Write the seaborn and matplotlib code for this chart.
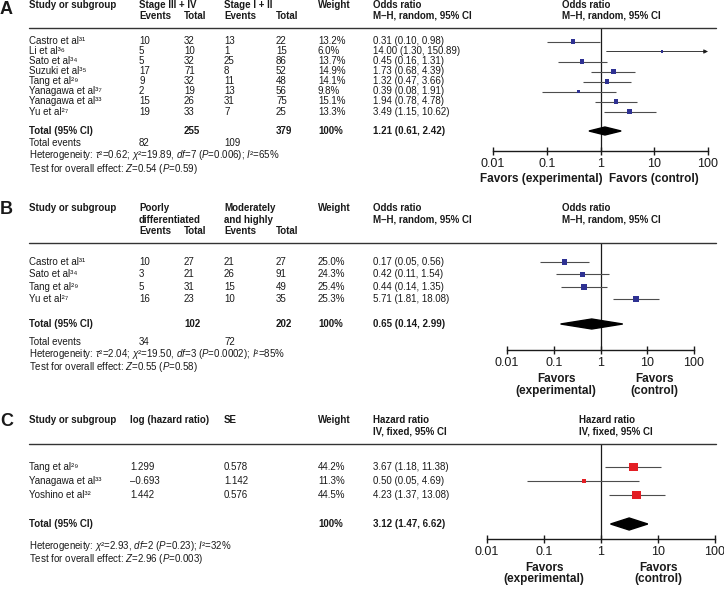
import numpy as np
import pandas as pd
import matplotlib.pyplot as plt
import seaborn as sns
from matplotlib.lines import Line2D
from matplotlib.ticker import NullLocator

# ---- Panel A data (stage III+IV vs I+II) ----
studies_a = ["Castro et al\u00b3\u00b9", "Li et al\u00b3\u2076", "Sato et al\u00b3\u2074", "Suzuki et al\u00b3\u2075",
             "Tang et al\u00b2\u2079", "Yanagawa et al\u00b3\u2077", "Yanagawa et al\u00b3\u00b3", "Yu et al\u00b2\u2077"]
events1_a = [10, 5, 5, 17, 9, 2, 15, 19]
total1_a = [32, 10, 32, 71, 32, 19, 26, 33]
events2_a = [13, 1, 25, 8, 11, 13, 31, 7]
total2_a = [22, 15, 86, 52, 48, 56, 75, 25]
weight_a = [13.2, 6.0, 13.7, 14.9, 14.1, 9.8, 15.1, 13.3]
or_a = [0.31, 14.00, 0.45, 1.73, 1.32, 0.39, 1.94, 3.49]
lo_a = [0.10, 1.30, 0.16, 0.68, 0.47, 0.08, 0.78, 1.15]
hi_a = [0.98, 150.89, 1.31, 4.39, 3.66, 1.91, 4.78, 10.62]
pooled_a = [1.21, 0.61, 2.42]
totals_a = [255, 379]
tot_events_a = [82, 109]
het_a = r"Heterogeneity: $\tau$²=0.62; $\chi$²=19.89, $df$=7 ($P$=0.006); $I$²=65%"
test_a = r"Test for overall effect: $Z$=0.54 ($P$=0.59)"

# ---- Panel B data (poorly vs moderately/highly differentiated) ----
studies_b = ["Castro et al\u00b3\u00b9", "Sato et al\u00b3\u2074", "Tang et al\u00b2\u2079", "Yu et al\u00b2\u2077"]
events1_b = [10, 3, 5, 16]
total1_b = [27, 21, 31, 23]
events2_b = [21, 26, 15, 10]
total2_b = [27, 91, 49, 35]
weight_b = [25.0, 24.3, 25.4, 25.3]
or_b = [0.17, 0.42, 0.44, 5.71]
lo_b = [0.05, 0.11, 0.14, 1.81]
hi_b = [0.56, 1.54, 1.35, 18.08]
pooled_b = [0.65, 0.14, 2.99]
totals_b = [102, 202]
tot_events_b = [34, 72]
het_b = r"Heterogeneity: $\tau$²=2.04; $\chi$²=19.50, $df$=3 ($P$=0.0002); $I$²=85%"
test_b = r"Test for overall effect: $Z$=0.55 ($P$=0.58)"

# ---- Panel C data (hazard ratios) ----
studies_c = ["Tang et al\u00b2\u2079", "Yanagawa et al\u00b3\u00b3", "Yoshino et al\u00b3\u00b2"]
loghr_c = ["1.299", "\u20130.693", "1.442"]
se_c = [0.578, 1.142, 0.576]
weight_c = [44.2, 11.3, 44.5]
hr_c = [3.67, 0.50, 4.23]
lo_c = [1.18, 0.05, 1.37]
hi_c = [11.38, 4.69, 13.08]
pooled_c = [3.12, 1.47, 6.62]
het_c = r"Heterogeneity: $\chi$²=2.93, $df$=2 ($P$=0.23); $I$²=32%"
test_c = r"Test for overall effect: $Z$=2.96 ($P$=0.003)"

tick_vals = [0.01, 0.1, 1, 10, 100]
tick_labels = ["0.01", "0.1", "1", "10", "100"]

sns.set_theme(style="white")
plt.rcParams['font.family'] = ['Liberation Sans', 'DejaVu Sans']
plt.rcParams['mathtext.fontset'] = 'custom'
plt.rcParams['mathtext.rm'] = 'Liberation Sans'
plt.rcParams['mathtext.it'] = 'Liberation Sans:italic'
plt.rcParams['mathtext.bf'] = 'Liberation Sans:bold'

W, H = 724, 589
fig = plt.figure(figsize=(W / 100, H / 100), dpi=100)
FS = 7


def put(x, y, s, bold=False, size=FS, ha='left'):
    fig.text(x / W, 1 - y / H, s, va='center', ha=ha, fontsize=size,
             fontweight='bold' if bold else 'normal', color='#1a1a1a')


def hline(y):
    fig.add_artist(Line2D([29 / W, 716 / W], [1 - y / H, 1 - y / H],
                          transform=fig.transFigure, color='#333333', lw=1))


def forest(x0, x1, ytop, ybot, rows, est, lo, hi, weights, sizes, color, pooled, ypool, dh):
    ax = fig.add_axes([x0 / W, 1 - ybot / H, (x1 - x0) / W, (ybot - ytop) / H])
    ax.patch.set_alpha(0)
    ax.set_xscale('log')
    ax.set_xlim(0.01, 100)
    ax.set_ylim(ybot, ytop)
    df = pd.DataFrame({'est': est, 'lo': lo, 'hi': hi, 'row': rows, 'w': weights})
    inside = df[df['hi'] <= 100]
    ax.hlines(inside['row'], inside['lo'], inside['hi'], color='#4d4d4d', lw=0.8)
    for _, r in df[df['hi'] > 100].iterrows():
        ax.annotate('', xy=(100, r['row']), xytext=(r['lo'], r['row']),
                    arrowprops=dict(arrowstyle='-|>', color='#1a1a1a', lw=0.6,
                                    mutation_scale=6, shrinkA=0, shrinkB=0),
                    annotation_clip=False)
    sns.scatterplot(data=df, x='est', y='row', size='w', sizes=sizes, marker='s',
                    color=color, linewidth=0, legend=False, ax=ax, zorder=3)
    est_p, lo_p, hi_p = pooled
    ax.fill([lo_p, est_p, hi_p, est_p], [ypool, ypool - dh, ypool, ypool + dh],
            color='black', zorder=4)
    ax.axvline(1, color='#1a1a1a', lw=0.9, zorder=1)
    for s in ['top', 'left', 'right']:
        ax.spines[s].set_visible(False)
    ax.spines['bottom'].set_color('#1a1a1a')
    ax.spines['bottom'].set_linewidth(1)
    ax.set_xticks(tick_vals)
    ax.set_xticklabels(tick_labels)
    ax.xaxis.set_minor_locator(NullLocator())
    ax.tick_params(axis='x', direction='inout', length=6, width=1, labelsize=9,
                   pad=2, colors='#1a1a1a', bottom=True)
    ax.set_yticks([])
    ax.set_xlabel('')
    ax.set_ylabel('')
    return ax


NAVY = '#2e3192'
RED = '#e31e24'

# ================= Panel A =================
put(0, 10, "A", bold=True, size=13)
put(29, 5, "Study or subgroup", bold=True)
put(139, 5, "Stage III + IV", bold=True)
put(224, 5, "Stage I + II", bold=True)
put(318, 5, "Weight", bold=True)
put(139, 16, "Events", bold=True)
put(184, 16, "Total", bold=True)
put(224, 16, "Events", bold=True)
put(276, 16, "Total", bold=True)
for x in (373, 562):
    put(x, 5, "Odds ratio", bold=True)
    put(x, 16, "M\u2013H, random, 95% CI", bold=True)
hline(28)
rows_a = 41.5 + 10 * np.arange(len(studies_a))
for i, y in enumerate(rows_a):
    put(29, y, studies_a[i])
    put(139, y, str(events1_a[i]))
    put(184, y, str(total1_a[i]))
    put(224, y, str(events2_a[i]))
    put(276, y, str(total2_a[i]))
    put(318, y, f"{weight_a[i]:.1f}%")
    put(373, y, f"{or_a[i]:.2f} ({lo_a[i]:.2f}, {hi_a[i]:.2f})")
put(29, 131, "Total (95% CI)", bold=True)
put(184, 131, str(totals_a[0]), bold=True)
put(276, 131, str(totals_a[1]), bold=True)
put(318, 131, "100%", bold=True)
put(373, 131, f"{pooled_a[0]:.2f} ({pooled_a[1]:.2f}, {pooled_a[2]:.2f})", bold=True)
put(29, 143, "Total events")
put(139, 143, str(tot_events_a[0]))
put(224, 143, str(tot_events_a[1]))
put(29, 155.5, het_a)
put(29, 168.5, test_a)
forest(493, 708, 28, 151, rows_a, or_a, lo_a, hi_a, weight_a, (4, 12), NAVY,
       pooled_a, 131, 4)
put(541, 179, "Favors (experimental)", bold=True, size=8.5, ha='center')
put(654, 179, "Favors (control)", bold=True, size=8.5, ha='center')

# ================= Panel B =================
put(0, 210, "B", bold=True, size=13)
put(29, 208, "Study or subgroup", bold=True)
put(139, 208, "Poorly", bold=True)
put(139, 220, "differentiated", bold=True)
put(224, 208, "Moderately", bold=True)
put(224, 220, "and highly", bold=True)
put(139, 231, "Events", bold=True)
put(184, 231, "Total", bold=True)
put(224, 231, "Events", bold=True)
put(276, 231, "Total", bold=True)
put(318, 208, "Weight", bold=True)
for x in (373, 562):
    put(x, 208, "Odds ratio", bold=True)
    put(x, 219, "M\u2013H, random, 95% CI", bold=True)
hline(243)
rows_b = 262 + 12.4 * np.arange(len(studies_b))
for i, y in enumerate(rows_b):
    put(29, y, studies_b[i])
    put(139, y, str(events1_b[i]))
    put(184, y, str(total1_b[i]))
    put(224, y, str(events2_b[i]))
    put(276, y, str(total2_b[i]))
    put(318, y, f"{weight_b[i]:.1f}%")
    put(373, y, f"{or_b[i]:.2f} ({lo_b[i]:.2f}, {hi_b[i]:.2f})")
put(29, 324, "Total (95% CI)", bold=True)
put(184, 324, str(totals_b[0]), bold=True)
put(276, 324, str(totals_b[1]), bold=True)
put(318, 324, "100%", bold=True)
put(373, 324, f"{pooled_b[0]:.2f} ({pooled_b[1]:.2f}, {pooled_b[2]:.2f})", bold=True)
put(29, 342, "Total events")
put(139, 342, str(tot_events_b[0]))
put(224, 342, str(tot_events_b[1]))
put(29, 354, het_b)
put(29, 367, test_b)
forest(507, 694, 243, 350, rows_b, or_b, lo_b, hi_b, weight_b, (14, 16), NAVY,
       pooled_b, 324, 5)
put(556, 379, "Favors", bold=True, size=8.5, ha='center')
put(556, 391, "(experimental)", bold=True, size=8.5, ha='center')
put(654, 379, "Favors", bold=True, size=8.5, ha='center')
put(654, 391, "(control)", bold=True, size=8.5, ha='center')

# ================= Panel C =================
put(0, 422, "C", bold=True, size=13)
put(29, 420, "Study or subgroup", bold=True)
put(130, 420, "log (hazard ratio)", bold=True)
put(224, 420, "SE", bold=True)
put(318, 420, "Weight", bold=True)
for x in (373, 579):
    put(x, 420, "Hazard ratio", bold=True)
    put(x, 432, "IV, fixed, 95% CI", bold=True)
hline(444)
rows_c = 467 + 14 * np.arange(len(studies_c))
for i, y in enumerate(rows_c):
    put(29, y, studies_c[i])
    put(130, y, loghr_c[i])
    put(224, y, f"{se_c[i]:.3f}")
    put(318, y, f"{weight_c[i]:.1f}%")
    put(373, y, f"{hr_c[i]:.2f} ({lo_c[i]:.2f}, {hi_c[i]:.2f})")
put(29, 524, "Total (95% CI)", bold=True)
put(318, 524, "100%", bold=True)
put(373, 524, f"{pooled_c[0]:.2f} ({pooled_c[1]:.2f}, {pooled_c[2]:.2f})", bold=True)
put(29, 546, het_c)
put(29, 559, test_c)
forest(487, 715, 444, 539, rows_c, hr_c, lo_c, hi_c, weight_c, (10, 40), RED,
       pooled_c, 524, 6)
put(544, 568, "Favors", bold=True, size=8.5, ha='center')
put(544, 579, "(experimental)", bold=True, size=8.5, ha='center')
put(658, 568, "Favors", bold=True, size=8.5, ha='center')
put(658, 579, "(control)", bold=True, size=8.5, ha='center')

fig.savefig("out.png", dpi=100)
